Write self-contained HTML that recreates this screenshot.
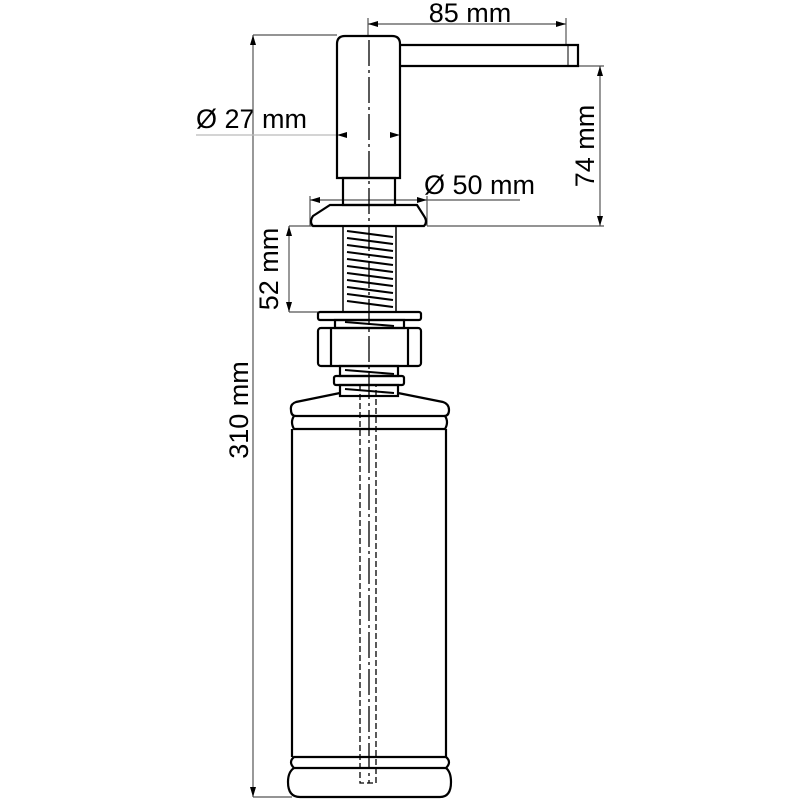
<!DOCTYPE html>
<html><head><style>body{margin:0;background:#fff}svg{display:block}</style></head>
<body>
<svg width="800" height="800" viewBox="0 0 800 800" xmlns="http://www.w3.org/2000/svg">
<rect width="800" height="800" fill="#fff"/>
<g font-family="Liberation Sans, Arial, sans-serif" font-size="27" fill="#000">
<text x="470" y="22" text-anchor="middle">85 mm</text>
<text x="196" y="128">Ø 27 mm</text>
<text x="424" y="194">Ø 50 mm</text>
<text transform="translate(594,146) rotate(-90)" text-anchor="middle">74 mm</text>
<text transform="translate(278,269) rotate(-90)" text-anchor="middle">52 mm</text>
<text transform="translate(248,410) rotate(-90)" text-anchor="middle">310 mm</text>
</g>
<g stroke="#555" stroke-width="1.2" fill="none">
<line x1="253" y1="35" x2="253" y2="797"/>
<line x1="253" y1="35" x2="337" y2="35"/>
<line x1="253" y1="797" x2="292" y2="797"/>
<line x1="368" y1="24" x2="566" y2="24"/>
<line x1="368" y1="18" x2="368" y2="36"/>
<line x1="566" y1="18" x2="566" y2="45"/>
<line x1="600" y1="66" x2="600" y2="226"/>
<line x1="578" y1="66" x2="604" y2="66"/>
<line x1="427" y1="226" x2="604" y2="226"/>
<line x1="196" y1="135" x2="337" y2="135" stroke="#bbb"/>
<line x1="310" y1="200" x2="520" y2="200"/>
<line x1="310" y1="196" x2="310" y2="226"/>
<line x1="427" y1="196" x2="427" y2="226"/>
<line x1="289" y1="226" x2="289" y2="312"/>
<line x1="289" y1="226" x2="343" y2="226"/>
<line x1="289" y1="312" x2="318" y2="312"/>
</g>
<g fill="#000">
<path d="M253 35 l-3 10 h6z M253 797 l-3 -10 h6z"/>
<path d="M368 24 l10 -3 v6z M566 24 l-10 -3 v6z"/>
<path d="M600 66 l-3 10 h6z M600 226 l-3 -10 h6z"/>
<path d="M289 226 l-3 10 h6z M289 312 l-3 -10 h6z"/>
<path d="M337 135 l10 -3 v6z M400 135 l-10 -3 v6z"/>
<path d="M310 200 l10 -3 v6z M427 200 l-10 -3 v6z"/>
</g>
<g stroke="#000" stroke-width="2.2" fill="none">
<path d="M337 178 V44 Q337 36 345 36 H392 Q400 36 400 44 V178 Z"/>
<path d="M400 45 H578 V66 H400"/>
<line x1="568" y1="45" x2="568" y2="66" stroke-width="1"/>
<rect x="343" y="178" width="52" height="27"/>
<path d="M330 205 H417 L424 216 Q428 222 424 226 H313 Q309 222 313 216 Z"/>
<rect x="343" y="226" width="53" height="86" stroke-width="1.5"/>
<rect x="318" y="312" width="103" height="8" rx="2"/>
<rect x="335" y="320" width="69" height="8"/>
<rect x="318" y="328" width="103" height="38" rx="3"/>
<line x1="331" y1="328" x2="331" y2="366"/>
<line x1="408" y1="328" x2="408" y2="366"/>
<rect x="340" y="366" width="58" height="10"/>
<rect x="334" y="376" width="70" height="9" rx="2"/>
<rect x="340" y="385" width="58" height="11"/>
<path d="M340 393 L296 402 Q290 404 291 410 Q291 416 296 416 H444 Q449 416 449 410 Q449 404 443 402 L398 393"/>
<path d="M294 416 Q290 422 294 429 H445 Q449 422 445 416"/>
<path d="M292 429 V757 M446 429 V757"/>
<path d="M294 757 Q288 762 294 768 H446 Q452 762 446 757 Z"/>
<path d="M294 768 Q288 772 288 782 Q288 797 300 797 H440 Q451 797 451 782 Q451 772 446 768"/>
</g>
<g stroke="#000" stroke-width="2" fill="none">
<path d="M347 231 L393 237 M347 238 L393 244 M347 245 L393 251 M347 252 L393 258 M347 259 L393 265 M347 266 L393 272 M347 273 L393 279 M347 280 L393 286 M347 287 L393 293 M347 294 L393 300 M347 301 L393 307"/>
<path d="M345 370 L394 374 M345 389 L394 393 M345 322 L394 326"/>
</g>
<g stroke="#000" stroke-width="1.3" fill="none">
<path d="M360 385 V783 H376 V385" stroke-dasharray="6 3"/>
<line x1="369" y1="40" x2="369" y2="783" stroke-dasharray="26 4 3 4"/>
</g>
</svg>
</body></html>
